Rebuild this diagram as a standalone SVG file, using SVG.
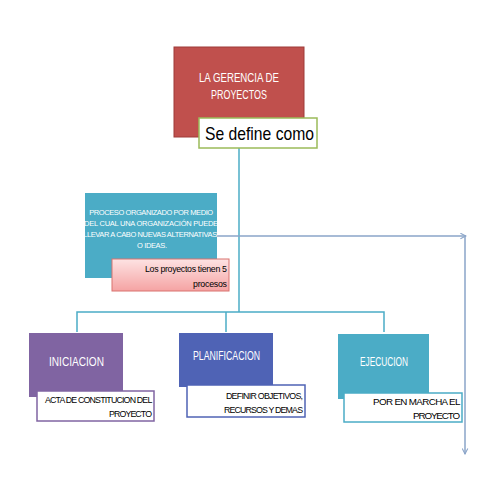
<svg xmlns="http://www.w3.org/2000/svg" width="480" height="480" viewBox="0 0 480 480">
<style>
text{font-family:"Liberation Sans","Noto Sans",Arial,sans-serif}
.w{fill:#ffffff}
.k{fill:#000000}
.tree{stroke:#4bacc6;stroke-width:1.5;fill:none}
.side{stroke:#8aa4c8;stroke-width:1.5;fill:none}
.lbl{fill:#ffffff;stroke-width:1.5}
</style>
<defs>
<marker id="arr" viewBox="0 0 10 10" refX="9" refY="5" markerWidth="7" markerHeight="7" orient="auto" markerUnits="userSpaceOnUse">
<path d="M1,1 L9,5 L1,9" fill="none" stroke="#8aa4c8" stroke-width="1.5"/>
</marker>
<linearGradient id="pink" x1="0" y1="0" x2="0" y2="1">
<stop offset="0" stop-color="#fde3e3"/>
<stop offset="1" stop-color="#f5a3a3"/>
</linearGradient>
</defs>
<rect width="480" height="480" fill="#ffffff"/>
<g id="connectors">
<path class="tree" d="M239,148 V312"/>
<path class="tree" d="M77,332 V312 H384 V332"/>
<path class="tree" d="M226,312 V332"/>
<path class="side" d="M217,236 H466" marker-end="url(#arr)"/>
<path class="side" d="M465,237 V454" marker-end="url(#arr)"/>
</g>
<g id="gerencia">
<rect x="174" y="47" width="130" height="90" fill="#c0504d" stroke="#9e3b38" stroke-width="1"/>
<text x="199" y="82" class="w" font-size="12" textLength="80" lengthAdjust="spacingAndGlyphs">LA GERENCIA DE</text>
<text x="211" y="99" class="w" font-size="12" textLength="56" lengthAdjust="spacingAndGlyphs">PROYECTOS</text>
</g>
<g id="sedefine">
<rect x="199" y="118" width="118" height="30" fill="#ffffff" stroke="#9bbb59" stroke-width="1.5"/>
<text x="205" y="140" class="k" font-size="19" textLength="109" lengthAdjust="spacingAndGlyphs">Se define como</text>
</g>
<g id="proceso">
<rect x="85" y="193" width="132" height="85" fill="#4bacc6"/>
<text class="w" font-size="7.5" text-anchor="middle" lengthAdjust="spacingAndGlyphs">
<tspan x="152" y="215" textLength="124">PROCESO ORGANIZADO POR MEDIO</tspan>
<tspan x="152" y="226" textLength="134">DEL CUAL  UNA ORGANIZACIÓN PUEDE</tspan>
<tspan x="151" y="237" textLength="134">LLEVAR A CABO NUEVAS ALTERNATIVAS</tspan>
<tspan x="152" y="248" textLength="30">O IDEAS.</tspan>
</text>
</g>
<g id="cinco">
<rect x="112" y="259" width="117" height="32" fill="url(#pink)" stroke="#d9726f" stroke-width="1"/>
<text class="k" font-size="8.8" lengthAdjust="spacingAndGlyphs">
<tspan x="145" y="272" textLength="82">Los proyectos tienen 5</tspan>
<tspan x="193" y="287" textLength="34">procesos</tspan>
</text>
</g>
<g id="iniciacion">
<rect x="29" y="333" width="94" height="64" fill="#8064a2"/>
<text x="49" y="366" class="w" font-size="12" textLength="55" lengthAdjust="spacingAndGlyphs">INICIACION</text>
<rect x="37" y="391" width="117" height="30" class="lbl" stroke="#8064a2"/>
<text class="k" font-size="8.8" lengthAdjust="spacingAndGlyphs">
<tspan x="45" y="403" textLength="107">ACTA DE CONSTITUCION DEL</tspan>
<tspan x="109" y="417" textLength="43">PROYECTO</tspan>
</text>
</g>
<g id="planificacion">
<rect x="179" y="333" width="94" height="54" fill="#4f63b5"/>
<text x="193" y="360" class="w" font-size="12" textLength="67" lengthAdjust="spacingAndGlyphs">PLANIFICACION</text>
<rect x="187" y="385" width="118" height="32" class="lbl" stroke="#4f63b5"/>
<text class="k" font-size="8.8" lengthAdjust="spacingAndGlyphs">
<tspan x="226" y="399" textLength="77">DEFINIR OBJETIVOS,</tspan>
<tspan x="224" y="413" textLength="79">RECURSOS Y DEMAS</tspan>
</text>
</g>
<g id="ejecucion">
<rect x="338" y="334" width="91" height="65" fill="#4bacc6"/>
<text x="360" y="366" class="w" font-size="12" textLength="48" lengthAdjust="spacingAndGlyphs">EJECUCION</text>
<rect x="344" y="393" width="118" height="29" class="lbl" stroke="#4bacc6"/>
<text class="k" font-size="9.8" lengthAdjust="spacingAndGlyphs">
<tspan x="373" y="405" textLength="87">POR EN MARCHA EL</tspan>
<tspan x="413" y="419" textLength="47">PROYECTO</tspan>
</text>
</g>
</svg>
